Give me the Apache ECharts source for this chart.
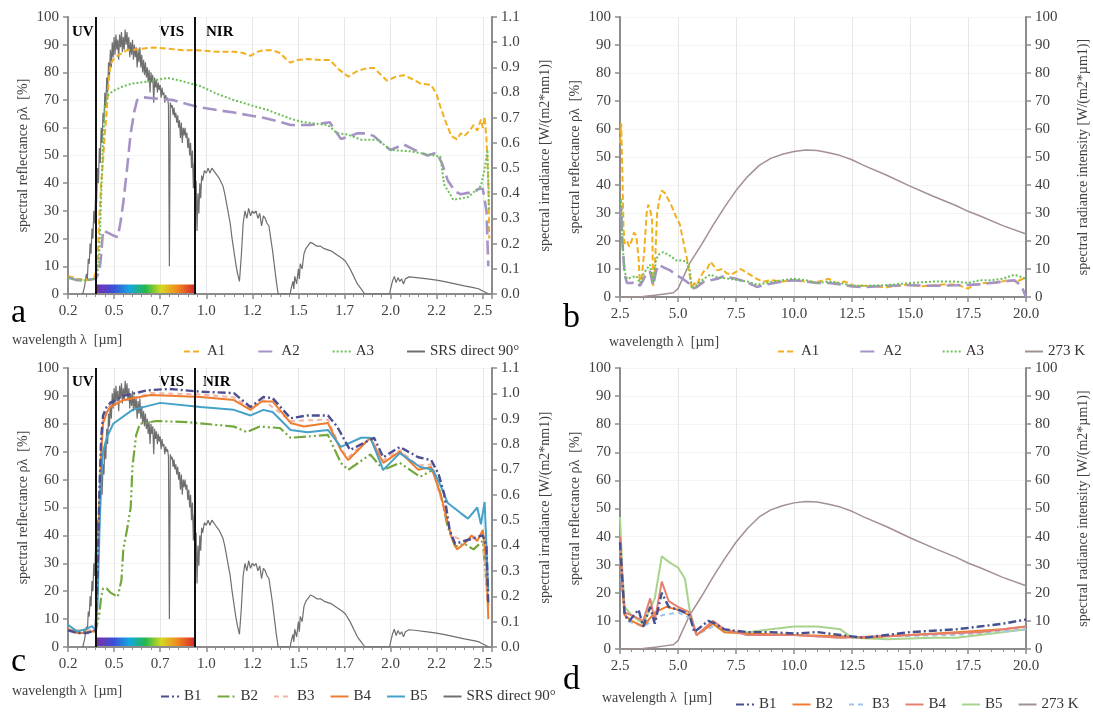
<!DOCTYPE html>
<html>
<head>
<meta charset="utf-8">
<script src="https://cdn.jsdelivr.net/npm/echarts@6/dist/echarts.min.js"></script>
<style>
  html, body { margin: 0; padding: 0; background: #ffffff; }
  #chart { width: 1093px; height: 714px; }
</style>
</head>
<body>
<div id="chart"></div>
<script>
// ---------- solar / thermal wavelength axes ----------
const SOLAR_TICK_LABELS = ['0.2', '0.5', '0.7', '1.0', '1.2', '1.5', '1.7', '2.0', '2.2', '2.5'];
const UV_VIS_EDGE = 0.4;     // µm
const VIS_NIR_EDGE = 0.94;   // µm

// ---------- solar reflectance spectra, samples A1–A3  [λ µm, %] ----------
const A1 = [[0.25,6.5],[0.3,5.5],[0.35,5],[0.39,5.5],[0.4,6],[0.41,10],[0.42,28],[0.43,40],[0.44,48],[0.45,58],[0.46,66],[0.47,76],[0.48,83],[0.5,85],[0.53,86.5],[0.57,88],[0.65,88.5],[0.71,89],[0.8,88.5],[0.875,88],[0.95,88],[1.05,87.5],[1.15,87.5],[1.2,87],[1.24,86],[1.28,87.5],[1.31,88],[1.36,88],[1.4,87],[1.43,85],[1.457,83.5],[1.49,84.5],[1.55,84.8],[1.62,84.5],[1.67,84.5],[1.72,81],[1.77,78.5],[1.82,80.5],[1.875,81.6],[1.91,81.6],[1.95,79],[1.98,77],[2.03,78.5],[2.07,79],[2.12,77.5],[2.16,76],[2.22,75.5],[2.25,72],[2.27,67.6],[2.3,62],[2.33,57],[2.36,55.8],[2.38,58],[2.4,57],[2.43,59],[2.45,61],[2.47,59],[2.49,63],[2.5,60],[2.51,64],[2.52,56],[2.53,40],[2.535,20]];
const A2 = [[0.25,6],[0.3,5],[0.35,5],[0.4,5.5],[0.42,8],[0.43,14],[0.44,23],[0.47,22],[0.5,21],[0.52,20.5],[0.535,26],[0.55,33],[0.57,45],[0.59,58],[0.61,66],[0.625,70],[0.66,71],[0.74,70.5],[0.82,70],[0.9,68.5],[0.95,67.6],[1.05,66.5],[1.15,65.5],[1.23,64.5],[1.31,63.6],[1.38,62.5],[1.457,61],[1.565,61],[1.67,62],[1.7,59],[1.73,56],[1.78,57],[1.82,58],[1.87,58],[1.91,57],[1.96,54],[2.0,52],[2.07,54],[2.13,52],[2.2,50],[2.25,51],[2.28,47],[2.31,41],[2.35,37],[2.38,36],[2.42,36.5],[2.45,36.7],[2.48,38],[2.5,38],[2.52,30],[2.53,10]];
const A3 = [[0.25,6],[0.3,5],[0.35,5],[0.4,5.5],[0.41,8],[0.42,15],[0.43,35],[0.44,55],[0.45,68],[0.47,72],[0.5,73.5],[0.55,75],[0.6,76],[0.695,76.8],[0.79,78],[0.86,77],[0.97,75],[1.05,72.5],[1.15,70],[1.25,68],[1.33,66.5],[1.4,64.7],[1.47,63],[1.53,62],[1.66,61],[1.71,58],[1.77,57.5],[1.84,55.7],[1.93,55.7],[2.0,52],[2.11,51.5],[2.2,50.4],[2.27,49.6],[2.29,39.6],[2.34,34],[2.38,34.5],[2.42,35],[2.49,39],[2.51,45],[2.525,52],[2.535,30]];

// ---------- solar reflectance spectra, samples B1–B5  [λ µm, %] ----------
const B1 = [[0.25,6],[0.3,5],[0.35,5],[0.4,6],[0.41,25],[0.42,55],[0.43,75],[0.44,83],[0.46,86],[0.48,87.5],[0.55,90],[0.68,92],[0.8,92.5],[0.97,91.5],[1.15,91],[1.24,86],[1.31,89.6],[1.36,89.2],[1.457,82],[1.55,83],[1.66,83],[1.71,79],[1.78,70.6],[1.85,73],[1.91,75],[1.96,68],[2.05,71.7],[2.15,68],[2.22,67],[2.26,62],[2.29,55],[2.32,42],[2.35,37],[2.4,38],[2.45,39],[2.5,40],[2.52,36],[2.53,15]];
const B2 = [[0.25,6],[0.4,5.5],[0.42,12],[0.43,18],[0.44,21],[0.46,21],[0.48,19.5],[0.52,18],[0.54,24],[0.55,35],[0.57,42],[0.59,50],[0.6,65],[0.62,76],[0.64,80],[0.73,81],[0.9,80.6],[1.15,79],[1.22,77],[1.29,79],[1.4,78.5],[1.457,75],[1.66,76],[1.73,66],[1.77,63.5],[1.89,69],[1.96,63.5],[2.05,66],[2.16,61],[2.23,63.5],[2.27,55],[2.31,43],[2.35,36],[2.4,37],[2.45,35],[2.5,38],[2.53,15]];
const B3 = [[0.25,6],[0.4,6],[0.42,50],[0.44,82],[0.48,87],[0.7,91],[0.97,90.5],[1.15,89.5],[1.24,85.5],[1.31,88.5],[1.457,81],[1.66,81.5],[1.73,71],[1.77,68],[1.89,75],[1.96,67],[2.05,70.5],[2.15,65],[2.22,65.5],[2.33,40],[2.4,38],[2.5,40],[2.53,12]];
const B4 = [[0.25,6.5],[0.3,5],[0.35,5],[0.4,6],[0.41,20],[0.42,50],[0.43,70],[0.44,80],[0.46,84],[0.48,86],[0.55,88.5],[0.7,90.3],[0.97,89.6],[1.15,88.5],[1.24,85],[1.3,88],[1.36,88],[1.457,80.3],[1.53,79],[1.66,80.3],[1.73,70.6],[1.77,67],[1.89,75],[1.96,66],[2.05,70],[2.15,63.5],[2.22,64.5],[2.27,55],[2.33,39.4],[2.36,35],[2.4,37],[2.44,40],[2.47,38],[2.5,42],[2.52,30],[2.53,10]];
const B5 = [[0.25,8],[0.3,5.5],[0.35,6.5],[0.38,7.5],[0.4,6],[0.41,15],[0.42,40],[0.43,60],[0.44,70],[0.46,75],[0.495,80],[0.6,85],[0.75,87.5],[0.97,86],[1.15,85],[1.24,83],[1.31,85],[1.36,84.2],[1.457,77.8],[1.55,77],[1.66,77.8],[1.73,71.7],[1.84,75],[1.89,75],[1.96,63.5],[2.05,69.5],[2.16,64.5],[2.23,63.5],[2.27,58],[2.31,51.6],[2.38,48],[2.42,46],[2.47,50],[2.49,44],[2.51,52],[2.53,20]];

// ---------- direct solar irradiance, 90° elevation  [λ µm, W/(m²·nm)] ----------
const SRS = [[0.33,0],[0.34,0.03],[0.35,0.08],[0.355,0.06],[0.36,0.14],[0.365,0.12],[0.37,0.2],[0.375,0.16],[0.38,0.26],[0.385,0.22],[0.39,0.33],[0.395,0.28],[0.4,0.4],[0.405,0.36],[0.41,0.5],[0.415,0.44],[0.42,0.58],[0.425,0.52],[0.43,0.66],[0.435,0.6],[0.44,0.72],[0.445,0.68],[0.45,0.8],[0.455,0.74],[0.46,0.86],[0.465,0.8],[0.47,0.92],[0.475,0.87],[0.48,0.97],[0.485,0.9],[0.49,1.0],[0.495,0.94],[0.5,1.02],[0.505,0.95],[0.51,1.03],[0.515,0.97],[0.52,1.01],[0.525,0.93],[0.53,1.03],[0.535,0.98],[0.54,1.04],[0.545,0.96],[0.55,1.02],[0.555,0.97],[0.56,1.05],[0.565,0.99],[0.57,1.04],[0.575,0.97],[0.58,1.02],[0.585,0.94],[0.59,1.0],[0.595,0.95],[0.6,1.01],[0.605,0.93],[0.61,0.99],[0.615,0.94],[0.62,0.98],[0.625,0.9],[0.63,0.97],[0.635,0.92],[0.64,0.98],[0.645,0.9],[0.65,0.95],[0.655,0.88],[0.66,0.93],[0.665,0.87],[0.67,0.92],[0.675,0.86],[0.68,0.9],[0.685,0.84],[0.69,0.89],[0.695,0.8],[0.7,0.88],[0.705,0.84],[0.71,0.87],[0.715,0.76],[0.72,0.86],[0.725,0.82],[0.73,0.85],[0.735,0.8],[0.74,0.84],[0.745,0.81],[0.75,0.83],[0.755,0.78],[0.76,0.82],[0.765,0.79],[0.77,0.8],[0.775,0.76],[0.78,0.79],[0.785,0.77],[0.79,0.78],[0.795,0.75],[0.8,0.11],[0.805,0.76],[0.81,0.74],[0.815,0.75],[0.82,0.71],[0.825,0.74],[0.83,0.7],[0.835,0.72],[0.84,0.68],[0.845,0.71],[0.85,0.66],[0.855,0.69],[0.86,0.62],[0.865,0.68],[0.87,0.6],[0.875,0.66],[0.88,0.63],[0.885,0.66],[0.89,0.62],[0.895,0.64],[0.9,0.58],[0.905,0.62],[0.91,0.55],[0.915,0.6],[0.92,0.5],[0.925,0.57],[0.93,0.42],[0.935,0.52],[0.94,0.3],[0.945,0.45],[0.95,0.25],[0.955,0.4],[0.96,0.32],[0.965,0.44],[0.97,0.38],[0.975,0.47],[0.98,0.45],[0.99,0.49],[1.0,0.48],[1.01,0.5],[1.02,0.48],[1.03,0.5],[1.04,0.49],[1.05,0.48],[1.06,0.47],[1.07,0.46],[1.08,0.455],[1.09,0.43],[1.1,0.4],[1.11,0.36],[1.12,0.32],[1.13,0.28],[1.14,0.22],[1.15,0.17],[1.16,0.12],[1.17,0.08],[1.18,0.05],[1.19,0.15],[1.2,0.28],[1.21,0.33],[1.22,0.3],[1.23,0.34],[1.24,0.31],[1.25,0.33],[1.26,0.32],[1.27,0.33],[1.28,0.3],[1.29,0.32],[1.3,0.27],[1.31,0.31],[1.32,0.3],[1.33,0.28],[1.34,0.27],[1.35,0.22],[1.36,0.17],[1.37,0.11],[1.38,0.05],[1.39,0],[1.455,0],[1.46,0.02],[1.47,0.05],[1.475,0.02],[1.48,0.07],[1.49,0.04],[1.5,0.1],[1.505,0.06],[1.51,0.12],[1.52,0.1],[1.53,0.16],[1.54,0.18],[1.55,0.19],[1.565,0.205],[1.58,0.2],[1.6,0.19],[1.62,0.19],[1.64,0.18],[1.66,0.175],[1.68,0.17],[1.7,0.16],[1.72,0.15],[1.74,0.14],[1.755,0.13],[1.78,0.1],[1.8,0.07],[1.82,0.04],[1.84,0.02],[1.86,0],[1.995,0],[2.0,0.02],[2.01,0.05],[2.02,0.07],[2.03,0.045],[2.04,0.065],[2.05,0.05],[2.06,0.06],[2.07,0.04],[2.08,0.06],[2.1,0.068],[2.14,0.065],[2.2,0.06],[2.25,0.055],[2.3,0.048],[2.35,0.04],[2.4,0.032],[2.45,0.025],[2.48,0.02],[2.5,0.012],[2.52,0.005],[2.53,0]];

// ---------- thermal reflectance, samples A1–A3  [λ µm, %] ----------
const A1_IR = [[2.5,55],[2.55,62],[2.6,45],[2.65,25],[2.7,19],[2.8,20],[2.9,18],[3.0,20],[3.1,23],[3.2,22],[3.3,14],[3.36,4],[3.45,8],[3.55,17],[3.65,30],[3.72,33],[3.8,31],[3.88,28],[3.93,4],[4.0,10],[4.1,30],[4.2,35],[4.3,38],[4.45,37],[4.57,35],[4.7,33],[4.8,31],[4.95,28],[5.08,26],[5.2,21],[5.3,17],[5.38,14],[5.5,8],[5.6,3],[5.7,5],[5.8,4],[5.95,7],[6.1,9],[6.25,10],[6.4,12.6],[6.55,11],[6.7,9.5],[6.9,10],[7.1,8.5],[7.3,8],[7.5,9],[7.7,10],[7.9,9],[8.1,8],[8.4,6.5],[8.66,5.4],[9.0,6],[9.5,5.5],[10.0,6],[10.5,5.5],[11.0,5.4],[11.5,6.5],[11.8,5],[12.2,5.5],[12.6,4],[13.0,4],[13.5,3.8],[14.0,3.5],[14.5,4],[15.0,4.5],[15.5,3.8],[16.0,4.2],[16.5,4.5],[17.0,4.5],[17.5,3],[17.8,4.5],[18.2,5],[18.7,5],[19.2,6],[19.6,5.5],[20.0,7]];
const A2_IR = [[2.5,28],[2.55,32],[2.6,20],[2.7,8],[2.8,5],[3.0,5],[3.2,5.5],[3.36,4],[3.5,6],[3.65,9],[3.8,9],[3.93,4],[4.05,9],[4.15,11.5],[4.4,10.5],[4.66,9.5],[4.9,8],[5.2,6.5],[5.45,5],[5.6,3],[5.8,3.5],[6.1,5.4],[6.4,6],[6.7,6.5],[7.0,7.5],[7.2,7],[7.5,6.5],[7.9,5.5],[8.4,3.6],[8.8,4.5],[9.5,5.5],[10.0,6],[10.5,5.5],[11.0,5],[11.5,5],[12.0,4.5],[12.5,3.8],[13,3.5],[14,4],[15,4.2],[16,4],[17,4.2],[18,4.5],[19,5.5],[19.5,6],[19.8,4],[20,0]];
const A3_IR = [[2.5,33],[2.55,35],[2.6,20],[2.7,9],[2.8,6.5],[3.0,7],[3.2,7.5],[3.36,5],[3.5,8],[3.65,10],[3.8,11.5],[3.93,5],[4.05,13],[4.14,15],[4.36,16],[4.6,15],[4.95,13],[5.2,13],[5.38,12.6],[5.5,10],[5.6,3],[5.8,4],[6.1,6.5],[6.4,8],[6.7,7],[7.2,6.5],[7.6,6],[8.0,5.5],[8.4,4.4],[8.8,5],[9.5,6],[10.0,6.5],[10.5,6],[11.0,5],[11.5,5.5],[12.0,5],[12.5,4],[13,4],[14,4.2],[15,5],[16,5.5],[17,5.5],[17.5,5],[18,6],[18.5,6],[19,6.5],[19.5,8],[20,6.5]];

// ---------- thermal reflectance, samples B1–B5  [λ µm, %] ----------
const B1_IR = [[2.5,38],[2.6,25],[2.7,12],[2.9,10],[3.1,12],[3.3,14],[3.5,8],[3.8,15],[4.0,9],[4.3,20],[4.6,15],[5.0,14],[5.3,13],[5.5,12],[5.7,6],[6.0,8],[6.3,10],[6.6,9],[7.0,7],[8.0,6],[9.0,6],[10,5.5],[11,6],[12,5],[12.5,4.5],[13,4],[14,5],[15,6],[16,6.5],[17,7],[18,8],[19,9],[20,10.5]];
const B2_IR = [[2.5,40],[2.6,22],[2.7,12],[3.0,10],[3.5,8],[4.0,13],[4.5,15],[5.0,14],[5.5,12],[5.8,5],[6.5,9],[7.0,6],[8.0,5.5],[10,5],[12,4.5],[13,4],[15,5],[17,6],[19,7],[20,8]];
const B3_IR = [[2.5,35],[2.6,20],[2.8,10],[3.5,8],[4.3,12],[5.0,13],[5.5,11],[5.8,5],[6.5,8],[8.0,5],[10,5],[12,4],[14,4.5],[17,5],[20,7]];
const B4_IR = [[2.5,40],[2.6,24],[2.7,13],[3.0,12],[3.5,10],[3.8,18],[4.0,10],[4.3,24],[4.6,17],[5.0,15],[5.5,13],[5.8,5],[6.5,10],[7.0,7],[8.0,5],[10,5],[12,4],[15,5],[18,6],[20,8]];
const B5_IR = [[2.5,47],[2.6,28],[2.7,15],[3.0,12],[3.5,9],[4.0,18],[4.3,33],[4.6,31],[5.0,29],[5.3,25],[5.5,14],[5.8,5],[6.5,9],[7.0,6],[8.0,6],[9.0,7],[10,8],[11,8],[12,7],[12.5,4],[14,3.5],[16,4],[17,4],[18,5],[19,6],[20,7]];

// ---------- blackbody radiance at 273 K  [λ µm, W/(m²·µm)] ----------
const BB273 = [[2.5,0],[3.0,0],[3.5,0.2],[4.0,0.6],[4.5,1.2],[4.8,1.5],[5.0,3],[5.5,12],[6.0,18.5],[6.5,25.5],[7.0,32],[7.5,38],[8.0,43],[8.5,47],[9.0,49.5],[9.5,51],[10.0,52],[10.5,52.5],[11.0,52.3],[11.5,51.5],[12.0,50.5],[12.5,49],[13.0,47],[14.0,43.5],[15.0,39.6],[16.0,36],[17.0,32.6],[17.5,30.6],[18.0,29],[19.0,25.5],[20.0,22.5]];

// ---------- styling ----------
const SERIF = '"Liberation Serif", "Times New Roman", serif';
const AXIS_GREY = '#8c8c8c';
const TEXT = '#404040';

const C = {
  A1: '#f2b01e', A2: '#a693c6', A3: '#6cbf58', SRS: '#6f6f6f', BB: '#a39090',
  B1c: '#4b4f92', B2c: '#74a83a', B3c: '#f1b5a6', B4c: '#ee7d31', B5c: '#45a1c9',
  B1d: '#44508f', B2d: '#ee7d31', B3d: '#9fc5e8', B4d: '#e48070', B5d: '#a8d38c'
};
const DASH = { a1: [6, 3], a2: [14, 6], a3: [2, 2], b1: [8, 3, 2, 3], b2: [12, 3, 2, 3, 2, 3], b3: [5, 4] };

const grids = [
  { left: 68,  top: 17,  width: 424, height: 277 },  // a
  { left: 620, top: 17,  width: 406, height: 280 },  // b
  { left: 68,  top: 368, width: 424, height: 279 },  // c
  { left: 620, top: 368, width: 406, height: 281 }   // d
];

function solarLabel(v) {
  const i = Math.round((v - 0.25) / 0.25);
  if (i < 0 || i >= SOLAR_TICK_LABELS.length || Math.abs(v - (0.25 + i * 0.25)) > 1e-6) return '';
  return SOLAR_TICK_LABELS[i];
}

function xAxisSolar(gi) {
  return {
    type: 'value', gridIndex: gi, min: 0.25, max: 2.55, interval: 0.25,
    axisLine: { show: true, onZero: false, lineStyle: { color: AXIS_GREY, width: 2 } },
    axisTick: { show: true, length: 5, lineStyle: { color: AXIS_GREY, width: 1.5 } },
    minorTick: { show: true, splitNumber: 5, length: 3, lineStyle: { color: AXIS_GREY, width: 1 } },
    axisLabel: { color: TEXT, fontFamily: SERIF, fontSize: 15, margin: 10, formatter: solarLabel },
    splitLine: { show: true, lineStyle: { color: '#e6e6e6', width: 1 } }
  };
}
function xAxisThermal(gi) {
  return {
    type: 'value', gridIndex: gi, min: 2.5, max: 20, interval: 2.5,
    axisLine: { show: true, onZero: false, lineStyle: { color: AXIS_GREY, width: 2 } },
    axisTick: { show: true, length: 5, lineStyle: { color: AXIS_GREY, width: 1.5 } },
    minorTick: { show: true, splitNumber: 5, length: 3, lineStyle: { color: AXIS_GREY, width: 1 } },
    axisLabel: { color: TEXT, fontFamily: SERIF, fontSize: 15, margin: 10, formatter: v => v.toFixed(1) },
    splitLine: { show: true, lineStyle: { color: '#e6e6e6', width: 1 } }
  };
}
function yAxis(gi, pos, max, interval, name, gap, fmt) {
  return {
    type: 'value', gridIndex: gi, position: pos, min: 0, max: max, interval: interval,
    name: name, nameLocation: 'middle', nameGap: gap, nameRotate: 90,
    nameTextStyle: { color: TEXT, fontFamily: SERIF, fontSize: 14 },
    axisLine: { show: true, lineStyle: { color: AXIS_GREY, width: 2 } },
    axisTick: { show: true, length: 5, lineStyle: { color: AXIS_GREY, width: 1.5 } },
    axisLabel: { color: TEXT, fontFamily: SERIF, fontSize: 15, margin: 9, formatter: fmt },
    splitLine: { show: pos === 'left', lineStyle: { color: '#f4f4f4', width: 1 } }
  };
}

const REFL = 'spectral reflectance ρλ  [%]';
const yAxes = [
  yAxis(0, 'left', 100, 10, REFL, 38, v => String(v)),
  yAxis(0, 'right', 1.1, 0.1, 'spectral irradiance [W/(m2*nm1)]', 46, v => v.toFixed(1)),
  yAxis(1, 'left', 100, 10, REFL, 38, v => String(v)),
  yAxis(1, 'right', 100, 10, 'spectral radiance intensity [W/(m2*µm1)]', 50, v => String(v)),
  yAxis(2, 'left', 100, 10, REFL, 38, v => String(v)),
  yAxis(2, 'right', 1.1, 0.1, 'spectral irradiance [W/(m2*nm1)]', 46, v => v.toFixed(1)),
  yAxis(3, 'left', 100, 10, REFL, 38, v => String(v)),
  yAxis(3, 'right', 100, 10, 'spectral radiance intensity [W/(m2*µm1)]', 50, v => String(v))
];

function line(name, data, xi, yi, color, type, width, z) {
  return {
    type: 'line', name: name, data: data, xAxisIndex: xi, yAxisIndex: yi,
    symbol: 'none', showSymbol: false, animation: false, z: z || 2,
    lineStyle: { color: color, type: type, width: width },
    itemStyle: { color: color }
  };
}

// spectral region markers: UV|VIS|NIR boundaries and the visible colour band
function regionMarks() {
  return {
    markLine: {
      silent: true, symbol: 'none', animation: false,
      label: { show: false },
      lineStyle: { color: '#111111', type: 'solid', width: 2 },
      data: [{ xAxis: UV_VIS_EDGE }, { xAxis: VIS_NIR_EDGE }]
    },
    markArea: {
      silent: true, animation: false,
      itemStyle: {
        color: new echarts.graphic.LinearGradient(0, 0, 1, 0, [
          { offset: 0.0, color: '#7a2fa8' },
          { offset: 0.18, color: '#3d4fd8' },
          { offset: 0.34, color: '#14a8e0' },
          { offset: 0.5, color: '#22b84a' },
          { offset: 0.66, color: '#d8d820' },
          { offset: 0.82, color: '#f08a1e' },
          { offset: 1.0, color: '#d8262a' }
        ])
      },
      data: [[{ xAxis: UV_VIS_EDGE, yAxis: 0.4 }, { xAxis: VIS_NIR_EDGE, yAxis: 3.4 }]]
    }
  };
}

const series = [
  // panel a
  line('SRS direct 90°', SRS, 0, 1, C.SRS, 'solid', 1.2, 1),
  Object.assign(line('A1', A1, 0, 0, C.A1, DASH.a1, 2), regionMarks()),
  line('A2', A2, 0, 0, C.A2, DASH.a2, 2.6),
  line('A3', A3, 0, 0, C.A3, DASH.a3, 2),
  // panel b
  line('273 K', BB273, 1, 3, C.BB, 'solid', 1.5, 1),
  line('A1', A1_IR, 1, 2, C.A1, DASH.a1, 2),
  line('A2', A2_IR, 1, 2, C.A2, DASH.a2, 2.6),
  line('A3', A3_IR, 1, 2, C.A3, DASH.a3, 2),
  // panel c
  line('SRS direct 90°', SRS, 2, 5, C.SRS, 'solid', 1.2, 1),
  line('B2', B2, 2, 4, C.B2c, DASH.b2, 2.2),
  line('B3', B3, 2, 4, C.B3c, DASH.b3, 2),
  line('B4', B4, 2, 4, C.B4c, 'solid', 2),
  Object.assign(line('B5', B5, 2, 4, C.B5c, 'solid', 2), regionMarks()),
  line('B1', B1, 2, 4, C.B1c, DASH.b1, 2.4),
  // panel d
  line('273 K', BB273, 3, 7, C.BB, 'solid', 1.5, 1),
  line('B5', B5_IR, 3, 6, C.B5d, 'solid', 2),
  line('B3', B3_IR, 3, 6, C.B3d, DASH.b3, 2),
  line('B2', B2_IR, 3, 6, C.B2d, 'solid', 2),
  line('B4', B4_IR, 3, 6, C.B4d, 'solid', 2),
  line('B1', B1_IR, 3, 6, C.B1d, DASH.b1, 2.4)
];

const legendText = { color: '#333333', fontFamily: SERIF, fontSize: 15 };
function legend(left, top, gap, data) {
  return {
    left: left, top: top, orient: 'horizontal', itemGap: gap, itemWidth: 18, itemHeight: 12,
    selectedMode: false, textStyle: legendText, itemStyle: { opacity: 0 }, data: data
  };
}
const dItem = (name, color, type) => ({
  name: name, itemStyle: { color: color, opacity: 0 }, lineStyle: { color: color, type: type, width: 2 }
});

const legends = [
  legend(178, 339, 32, ['A1', 'A2', 'A3', 'SRS direct 90°']),
  legend(772, 339, 40, ['A1', 'A2', 'A3', '273 K']),
  legend(155, 684, 15, ['B1', 'B2', 'B3', 'B4', 'B5', 'SRS direct 90°']),
  legend(730, 692, 15, [
    dItem('B1', C.B1d, DASH.b1), dItem('B2', C.B2d, 'solid'), dItem('B3', C.B3d, DASH.b3),
    dItem('B4', C.B4d, 'solid'), dItem('B5', C.B5d, 'solid'), dItem('273 K', C.BB, 'solid')
  ])
];

function txt(x, y, text, size, weight, color) {
  return { type: 'text', x: x, y: y, silent: true,
    style: { text: text, fill: color || '#000', font: (weight || 'normal') + ' ' + size + 'px ' + SERIF, textVerticalAlign: 'middle' } };
}
const graphics = [
  txt(72, 32, 'UV', 15, 'bold'), txt(159, 32, 'VIS', 15, 'bold'), txt(206, 32, 'NIR', 15, 'bold'),
  txt(72, 382, 'UV', 15, 'bold'), txt(159, 382, 'VIS', 15, 'bold'), txt(203, 382, 'NIR', 15, 'bold'),
  txt(11, 313, 'a', 34), txt(563, 318, 'b', 34), txt(11, 662, 'c', 34), txt(563, 680, 'd', 34),
  txt(12, 340, 'wavelength λ  [µm]', 14, 'normal', TEXT),
  txt(609, 342, 'wavelength λ  [µm]', 14, 'normal', TEXT),
  txt(12, 691, 'wavelength λ  [µm]', 14, 'normal', TEXT),
  txt(602, 698, 'wavelength λ  [µm]', 14, 'normal', TEXT)
];

const chart = echarts.init(document.getElementById('chart'), null, { renderer: 'canvas' });
chart.setOption({
  animation: false,
  backgroundColor: '#ffffff',
  grid: grids,
  xAxis: [xAxisSolar(0), xAxisThermal(1), xAxisSolar(2), xAxisThermal(3)],
  yAxis: yAxes,
  legend: legends,
  series: series,
  graphic: graphics
});
</script>
</body>
</html>
